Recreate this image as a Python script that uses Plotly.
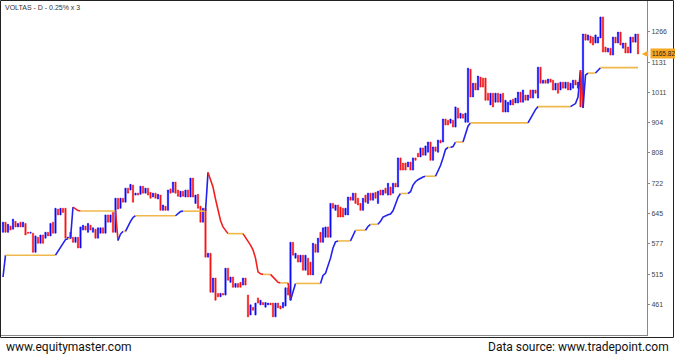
import plotly.graph_objects as go
import math

title_text = "VOLTAS - D - 0.25% x 3"
last_price = 1165.82
ytick_vals = [1266, 1131, 1011, 904, 808, 722, 645, 577, 515, 461]

opens = [
    602, 625, 602, 616, 609, 627, 614, 625, 614, 622,
    602, 600, 600, 559, 591, 578, 596, 589, 602, 594,
    625, 600, 656, 642, 658, 658, 589, 589, 591, 580,
    591, 568, 607, 616, 602, 618, 602, 609, 589, 600,
    612, 600, 642, 625, 648, 602, 683, 658, 683, 673,
    709, 704, 717, 691, 696, 693, 714, 696, 709, 698,
    686, 696, 681, 691, 653, 663, 653, 707, 698, 725,
    704, 686, 701, 686, 704, 686, 736, 670, 693, 663,
    625, 658, 549, 557, 482, 508, 480, 474, 480, 477,
    527, 500, 510, 491, 498, 500, 495, 508, 477, 443,
    456, 443, 472, 460, 464, 456, 460, 463, 463, 440,
    463, 458, 455, 458, 490, 468, 580, 547, 553, 539,
    553, 523, 547, 539, 514, 576, 559, 602, 580, 591,
    614, 591, 670, 653, 666, 661, 658, 642, 642, 686,
    678, 696, 683, 670, 653, 691, 670, 696, 678, 698,
    670, 704, 691, 709, 691, 712, 696, 722, 712, 793,
    778, 778, 767, 781, 758, 793, 807, 796, 823, 801,
    810, 841, 786, 826, 810, 847, 841, 916, 912, 902,
    912, 889, 954, 919, 933, 905, 905, 1102, 994, 1046,
    1020, 1070, 1066, 1066, 1008, 965, 1008, 975, 1008, 975,
    1008, 940, 940, 965, 986, 972, 972, 1012, 975, 1001,
    982, 1020, 990, 1020, 990, 1110, 1046, 1058, 1046, 1062,
    1058, 1020, 1046, 1020, 1050, 1027, 1050, 1020, 1027, 1058,
    1027, 1090, 958, 1255, 1227, 1246, 1241, 1214, 1214, 1237,
    1337, 1196, 1174, 1191, 1161, 1241, 1214, 1264, 1191, 1214,
    1196, 1170, 1241, 1218, 1255,
]

closes = [
    625, 602, 620, 607, 632, 614, 622, 614, 625, 596,
    600, 602, 559, 594, 578, 596, 578, 602, 594, 622,
    600, 658, 642, 658, 648, 589, 591, 602, 580, 591,
    568, 614, 618, 607, 622, 607, 612, 589, 612, 612,
    600, 642, 625, 642, 602, 683, 656, 683, 673, 709,
    696, 719, 673, 696, 691, 714, 696, 709, 691, 683,
    696, 683, 693, 653, 666, 653, 704, 696, 725, 696,
    688, 701, 688, 704, 686, 736, 686, 691, 658, 625,
    658, 549, 557, 482, 508, 468, 474, 480, 477, 527,
    504, 510, 491, 498, 491, 491, 508, 495, 440, 460,
    451, 463, 463, 468, 460, 464, 463, 460, 440, 463,
    455, 453, 464, 490, 477, 580, 553, 557, 539, 553,
    523, 553, 514, 514, 578, 559, 589, 580, 612, 614,
    591, 670, 658, 666, 637, 637, 637, 658, 686, 678,
    696, 670, 666, 653, 683, 673, 696, 678, 696, 683,
    701, 691, 704, 696, 722, 691, 722, 712, 793, 758,
    758, 758, 781, 758, 793, 786, 796, 823, 801, 829,
    841, 786, 826, 813, 847, 838, 916, 896, 896, 916,
    889, 958, 919, 936, 919, 936, 1106, 994, 1046, 1020,
    1074, 1031, 1031, 982, 982, 1008, 958, 1008, 975, 1005,
    940, 982, 975, 982, 965, 990, 1012, 975, 1020, 982,
    1001, 990, 1020, 1008, 1110, 1046, 1058, 1046, 1062, 1050,
    1020, 1046, 1008, 1050, 1027, 1050, 1020, 1046, 1058, 1039,
    1050, 958, 1255, 1227, 1251, 1214, 1205, 1251, 1241, 1337,
    1174, 1174, 1191, 1161, 1241, 1214, 1264, 1205, 1214, 1170,
    1170, 1241, 1218, 1255, 1165.82,
]

trail = [
    510,
    553, 553, 553, 553, 553, 553, 553, 553, 553, 553,
    553, 553, 553, 553, 553, 553, 553, 553, 553, 553, 553,
    561, 572, 580, 586, 588, 588,
    661, 657, 652.5,
    651.5, 651.5, 651.5, 651.5, 651.5, 651.5, 651.5, 651.5,
    651.5, 651.5, 651.5, 651.5, 651.5, 651.5, 651.5,
    584, 598, 604, 604, 617, 627, 636,
    640, 640, 640, 640, 640, 640, 640, 640, 640,
    640, 640, 640, 640, 640, 640, 640, 640,
    645, 650,
    651, 651, 651, 651, 651, 651, 651, 651, 651, 651,
    751.5, 733, 712, 681, 653, 629, 614, 606.5,
    599, 599, 599, 599, 599, 599, 599,
    591, 583, 574, 564, 547, 520, 516,
    515, 515, 515, 515,
    510, 503, 500,
    499, 499, 499, 499,
    468, 484,
    498, 498, 498, 498, 498, 498, 498, 498, 498, 498, 498,
    513, 517, 531, 547, 568, 581,
    583, 583, 583, 583, 583, 583,
    596,
    606.5, 606.5, 606.5, 606.5, 606.5,
    615,
    620, 620, 620, 620,
    627, 637, 640.5, 642.6, 644, 652, 668, 685,
    695, 695, 695, 695,
    699.6, 717, 726, 731.5, 736, 739,
    741, 741, 741, 741, 741,
    756, 771, 792.5, 818,
    824.5, 824.5,
    827,
    841, 841, 841, 841,
    869, 892,
    903, 903, 903, 903, 903, 903, 903, 903, 903, 903, 903, 903,
    903, 903, 903, 903, 903, 903, 903, 903, 903, 903, 903, 903,
    919, 936, 948.5,
    959, 959, 959, 959, 959, 959, 959, 959, 959, 959, 959, 959, 959, 959,
    964.6, 970, 994, 1098, 954, 1078,
    1086, 1086, 1086, 1086,
    1098,
    1108, 1108, 1108, 1108, 1108, 1108, 1108, 1108,
    1108, 1108, 1108, 1108, 1108, 1108, 1108, 1108,
]

idx = list(range(len(opens)))
highs = [max(o, c) for o, c in zip(opens, closes)]
lows = [min(o, c) for o, c in zip(opens, closes)]

BLUE = "#0a0aff"
RED = "#f81414"
ORANGE = "#f0b84a"
LINE_BLUE = "#2323f0"
LINE_RED = "#f42020"

fig = go.Figure()
fig.add_trace(go.Candlestick(
    x=idx, open=opens, high=highs, low=lows, close=closes,
    increasing=dict(line=dict(color=BLUE, width=0.6), fillcolor=BLUE),
    decreasing=dict(line=dict(color=RED, width=0.6), fillcolor=RED),
    whiskerwidth=0, showlegend=False, hoverinfo="skip",
))

# trailing line, coloured by direction of each step
def seg_color(a, b):
    if b > a:
        return LINE_BLUE
    if b < a:
        return LINE_RED
    return ORANGE

runs = []
start = 0
cur = seg_color(trail[0], trail[1])
for i in range(1, len(trail)):
    c = seg_color(trail[i - 1], trail[i])
    if c != cur:
        runs.append((start, i - 1, cur))
        start = i - 1
        cur = c
runs.append((start, len(trail) - 1, cur))
for s, e, c in runs:
    fig.add_trace(go.Scatter(
        x=idx[s:e + 1], y=trail[s:e + 1], mode="lines",
        line=dict(color=c, width=1.6), showlegend=False, hoverinfo="skip",
    ))

# geometry of plot area in pixels
W, H = 675, 358
L, R, T, B = 1, 28, 1, 23
pw, ph = W - L - R, H - T - B
ylog_lo, ylog_hi = 2.61426, 3.15184

def px_x(px):
    return (px - L) / pw

def px_y(py):
    return (H - B - py) / ph

fig.update_layout(
    width=W, height=H,
    margin=dict(l=L, r=R, t=T, b=B),
    paper_bgcolor="white", plot_bgcolor="white",
    xaxis=dict(range=[-0.8, 257.6], showticklabels=False, ticks="",
               showgrid=False, zeroline=False, rangeslider=dict(visible=False),
               showline=True, linecolor="#8a8a8a", linewidth=1),
    yaxis=dict(type="log", range=[ylog_lo, ylog_hi], side="right",
               tickvals=ytick_vals, ticktext=[str(v) for v in ytick_vals],
               tickfont=dict(family="Liberation Sans, Arial", size=7, color="#444"),
               ticks="outside", ticklen=2, tickcolor="#8a8a8a",
               showgrid=False, zeroline=False,
               showline=True, linecolor="#8a8a8a", linewidth=1),
    font=dict(family="Roboto"),
)

# outer frame
fig.add_shape(type="rect", xref="paper", yref="paper",
              x0=px_x(0.5), x1=px_x(673.5), y0=px_y(337.5), y1=px_y(0.5),
              line=dict(color="#222", width=1), fillcolor="rgba(0,0,0,0)", layer="above")

fig.add_annotation(text=title_text, xref="paper", yref="paper",
                   x=px_x(3), y=px_y(7), xanchor="left", yanchor="middle",
                   showarrow=False,
                   font=dict(family="Liberation Sans, Arial", size=7, color="#333"))

fig.add_annotation(text="www.equitymaster.com", xref="paper", yref="paper",
                   x=px_x(4), y=px_y(347), xanchor="left", yanchor="middle",
                   showarrow=False, font=dict(family="Roboto", size=12, color="#111"))
fig.add_annotation(text="Data source: www.tradepoint.com", xref="paper", yref="paper",
                   x=px_x(671), y=px_y(347), xanchor="right", yanchor="middle",
                   showarrow=False, font=dict(family="Roboto", size=12, color="#111"))

# last price tag
fig.add_annotation(text="%.2f" % last_price, xref="paper", yref="y",
                   x=px_x(650), y=math.log10(last_price), xanchor="left", yanchor="middle",
                   showarrow=False, bgcolor="#f7a823", borderpad=1,
                   font=dict(family="Liberation Sans Narrow, Liberation Sans, Arial", size=6.5, color="#222"))
fig.add_annotation(text="\u25c0", xref="paper", yref="y",
                   x=px_x(651), y=math.log10(last_price), xanchor="right", yanchor="middle",
                   showarrow=False,
                   font=dict(family="DejaVu Sans", size=8, color="#f7a823"))

fig.write_html("out.html", config={"displayModeBar": False},
               post_script="document.body.style.margin='0';document.body.style.overflow='hidden';")
